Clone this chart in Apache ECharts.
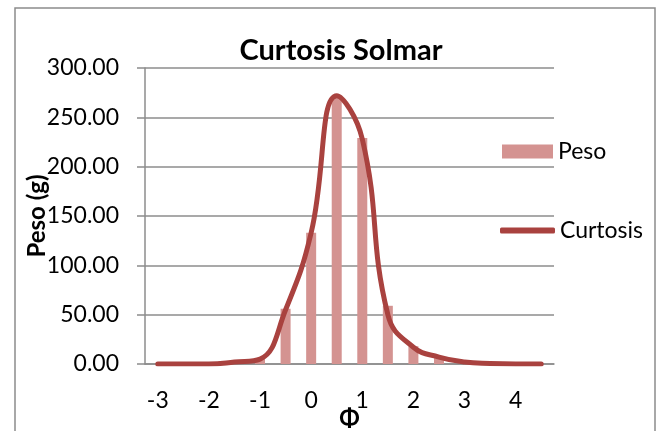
<!DOCTYPE html>
<html>
<head>
<meta charset="utf-8">
<script src="https://cdn.jsdelivr.net/npm/echarts@6/dist/echarts.min.js"></script>
<style>
  html, body { margin: 0; padding: 0; background: #ffffff; }
  #chart { width: 660px; height: 431px; }
</style>
</head>
<body>
<div id="chart"></div>
<script>
// Phi classes (half-unit steps)
const categories = ['-3', '-2.5', '-2', '-1.5', '-1', '-0.5', '0', '0.5', '1', '1.5', '2', '2.5', '3', '3.5', '4', '4.5'];
// Retained weight per class (g)
const pesoValues = [0, 0, 0, 2, 5, 56, 133, 271, 229, 59, 18, 6, 1, 0, 0, 0];
// Kurtosis curve
const curtosisValues = [0, 0, 0, 2, 5, 55, 133, 272, 228, 50, 17, 7, 2, 0.5, 0, 0];
const yTicks = [0, 50, 100, 150, 200, 250, 300];

const FONT = 'Lato, "Open Sans", sans-serif';
const GRID_GRAY = '#8c8c8c';
const BAR_COLOR = '#d49391';
const LINE_COLOR = '#a9423f';

const chart = echarts.init(document.getElementById('chart'), null, { renderer: 'canvas' });

chart.setOption({
  backgroundColor: '#ffffff',
  animation: false,
  graphic: [{
    type: 'rect',
    shape: { x: 15, y: 8, width: 640, height: 500 },
    style: { fill: 'none', stroke: GRID_GRAY, lineWidth: 1.5 },
    silent: true
  }],
  title: {
    text: 'Curtosis Solmar',
    left: 336,
    top: 31,
    textAlign: 'center',
    textStyle: { fontFamily: FONT, fontWeight: 'bold', fontSize: 29, color: '#000' }
  },
  legend: [{
    data: [{ name: 'Peso', icon: 'rect' }],
    left: 497,
    top: 135,
    itemWidth: 51,
    itemHeight: 14,
    textStyle: { fontFamily: FONT, fontSize: 23, color: '#000' }
  }, {
    data: [{ name: 'Curtosis', icon: 'roundRect' }],
    left: 495,
    top: 214,
    itemWidth: 55,
    itemHeight: 6,
    textStyle: { fontFamily: FONT, fontSize: 23, color: '#000' }
  }],
  grid: { left: 145, right: 106, top: 68, bottom: 67, containLabel: false, outerBoundsMode: 'none' },
  xAxis: {
    type: 'category',
    data: categories,
    boundaryGap: true,
    name: 'Φ',
    nameLocation: 'middle',
    nameGap: 43,
    nameMoveOverlap: false,
    nameTextStyle: { fontFamily: FONT, fontWeight: 'bold', fontSize: 24, color: '#000' },
    axisLine: { show: true, lineStyle: { color: GRID_GRAY, width: 1.5 } },
    axisTick: { show: false },
    axisLabel: {
      interval: 1,
      margin: 25,
      fontFamily: FONT,
      fontSize: 23,
      color: '#000'
    }
  },
  yAxis: {
    type: 'value',
    min: yTicks[0],
    max: yTicks[yTicks.length - 1],
    interval: 50,
    name: 'Peso (g)',
    nameLocation: 'middle',
    nameRotate: 90,
    nameGap: 96,
    nameMoveOverlap: false,
    nameTextStyle: { fontFamily: FONT, fontWeight: 'bold', fontSize: 24, color: '#000' },
    axisLine: { show: true, lineStyle: { color: GRID_GRAY, width: 1.5 } },
    axisTick: { show: true, length: 8, lineStyle: { color: GRID_GRAY, width: 1.5 } },
    axisLabel: {
      margin: 26,
      fontFamily: FONT,
      fontSize: 23,
      color: '#000',
      formatter: v => v.toFixed(2)
    },
    splitLine: { show: true, lineStyle: { color: GRID_GRAY, width: 1.5 } }
  },
  series: [{
    name: 'Peso',
    type: 'bar',
    data: pesoValues,
    barWidth: 10,
    itemStyle: { color: BAR_COLOR }
  }, {
    name: 'Curtosis',
    type: 'line',
    data: curtosisValues,
    smooth: 0.45,
    showSymbol: false,
    symbol: 'none',
    lineStyle: { color: LINE_COLOR, width: 5, cap: 'round', join: 'round' },
    itemStyle: { color: LINE_COLOR },
    z: 3
  }]
});
</script>
</body>
</html>
